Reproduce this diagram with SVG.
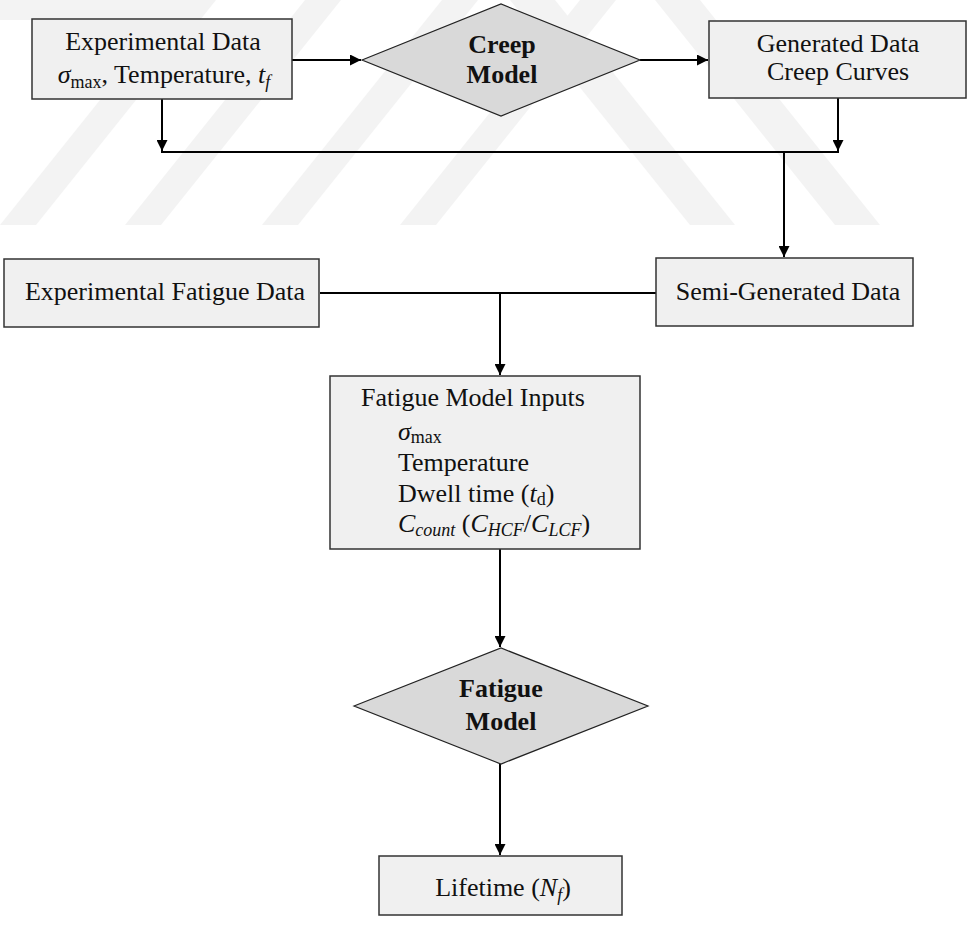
<svg xmlns="http://www.w3.org/2000/svg" width="967" height="925" viewBox="0 0 967 925">
<style>
  text { font-family: "Liberation Serif", "Times New Roman", serif; font-size: 26px; fill: #111; }
  .c { text-anchor: middle; }
  .b { font-weight: bold; }
  .i { font-style: italic; }
  .box { fill: #f0f0f0; stroke: #333; stroke-width: 1.5; }
  .dia { fill: #d9d9d9; stroke: #222; stroke-width: 1.2; }
  .ln { fill: none; stroke: #000; stroke-width: 2; }
  .wm { fill: #f3f3f3; }
</style>
<defs>
  <marker id="ah" viewBox="0 0 10 10" refX="10" refY="5" markerWidth="6" markerHeight="5.5" orient="auto" markerUnits="strokeWidth">
    <path d="M0,0 L10,5 L0,10 z" fill="#000"/>
  </marker>
</defs>
<rect width="967" height="925" fill="#fff"/>
<g id="watermark">
  <polygon class="wm" points="0,225 36,225 216,0 180,0"/>
  <polygon class="wm" points="125,225 161,225 341,0 305,0"/>
  <polygon class="wm" points="262,225 298,225 478,0 442,0"/>
  <polygon class="wm" points="400,225 436,225 616,0 580,0"/>
  <polygon class="wm" points="0,0 180,0 200,20 0,20"/>
  <polygon class="wm" points="735,225 690,225 510,0 555,0"/>
  <polygon class="wm" points="880,225 835,225 655,0 700,0"/>
</g>
<g id="connectors">
  <path class="ln" d="M292,60 H361" marker-end="url(#ah)"/>
  <path class="ln" d="M640,60 H708" marker-end="url(#ah)"/>
  <path class="ln" d="M162,99 V151" marker-end="url(#ah)"/>
  <path class="ln" d="M838,98 V151" marker-end="url(#ah)"/>
  <path class="ln" d="M161,152 H839"/>
  <path class="ln" d="M784,152 V257" marker-end="url(#ah)"/>
  <path class="ln" d="M320,293 H656"/>
  <path class="ln" d="M500,293 V375" marker-end="url(#ah)"/>
  <path class="ln" d="M500,549 V647" marker-end="url(#ah)"/>
  <path class="ln" d="M500,764 V855" marker-end="url(#ah)"/>
</g>
<g id="exp-data">
  <rect class="box" x="32" y="19" width="260" height="80"/>
  <text class="c" x="163" y="50">Experimental Data</text>
  <text class="c" x="164" y="83"><tspan class="i">σ</tspan><tspan font-size="18" dy="5">max</tspan><tspan dy="-5">, Temperature, </tspan><tspan class="i">t</tspan><tspan class="i" font-size="18" dy="5">f</tspan></text>
</g>
<g id="creep-model">
  <polygon class="dia" points="362,60 501,4 640,60 501,116"/>
  <text class="c b" x="502" y="53">Creep</text>
  <text class="c b" x="502" y="83">Model</text>
</g>
<g id="generated-data">
  <rect class="box" x="709" y="21" width="257" height="77"/>
  <text class="c" x="838" y="52">Generated Data</text>
  <text class="c" x="838" y="80">Creep Curves</text>
</g>
<g id="exp-fatigue">
  <rect class="box" x="4" y="259" width="315" height="68"/>
  <text class="c" x="165" y="300">Experimental Fatigue Data</text>
</g>
<g id="semi-generated">
  <rect class="box" x="656" y="258" width="257" height="68"/>
  <text class="c" x="788" y="300">Semi-Generated Data</text>
</g>
<g id="fatigue-inputs">
  <rect class="box" x="330" y="376" width="310" height="173"/>
  <text x="361" y="406">Fatigue Model Inputs</text>
  <text x="398" y="440"><tspan class="i">σ</tspan><tspan font-size="18" dy="3">max</tspan></text>
  <text x="398" y="471">Temperature</text>
  <text x="398" y="502">Dwell time (<tspan class="i">t</tspan><tspan font-size="18" dy="3">d</tspan><tspan dy="-3">)</tspan></text>
  <text x="398" y="532"><tspan class="i">C</tspan><tspan class="i" font-size="18" dy="4">count</tspan><tspan dy="-4"> (</tspan><tspan class="i">C</tspan><tspan class="i" font-size="18" dy="4">HCF</tspan><tspan dy="-4">/</tspan><tspan class="i">C</tspan><tspan class="i" font-size="18" dy="4">LCF</tspan><tspan dy="-4">)</tspan></text>
</g>
<g id="fatigue-model">
  <polygon class="dia" points="354,706 501,648 648,706 501,764"/>
  <text class="c b" x="501" y="697">Fatigue</text>
  <text class="c b" x="501" y="730">Model</text>
</g>
<g id="lifetime">
  <rect class="box" x="379" y="856" width="243" height="59"/>
  <text class="c" x="503" y="896">Lifetime (<tspan class="i">N</tspan><tspan class="i" font-size="18" dy="5">f</tspan><tspan dy="-5">)</tspan></text>
</g>
</svg>
